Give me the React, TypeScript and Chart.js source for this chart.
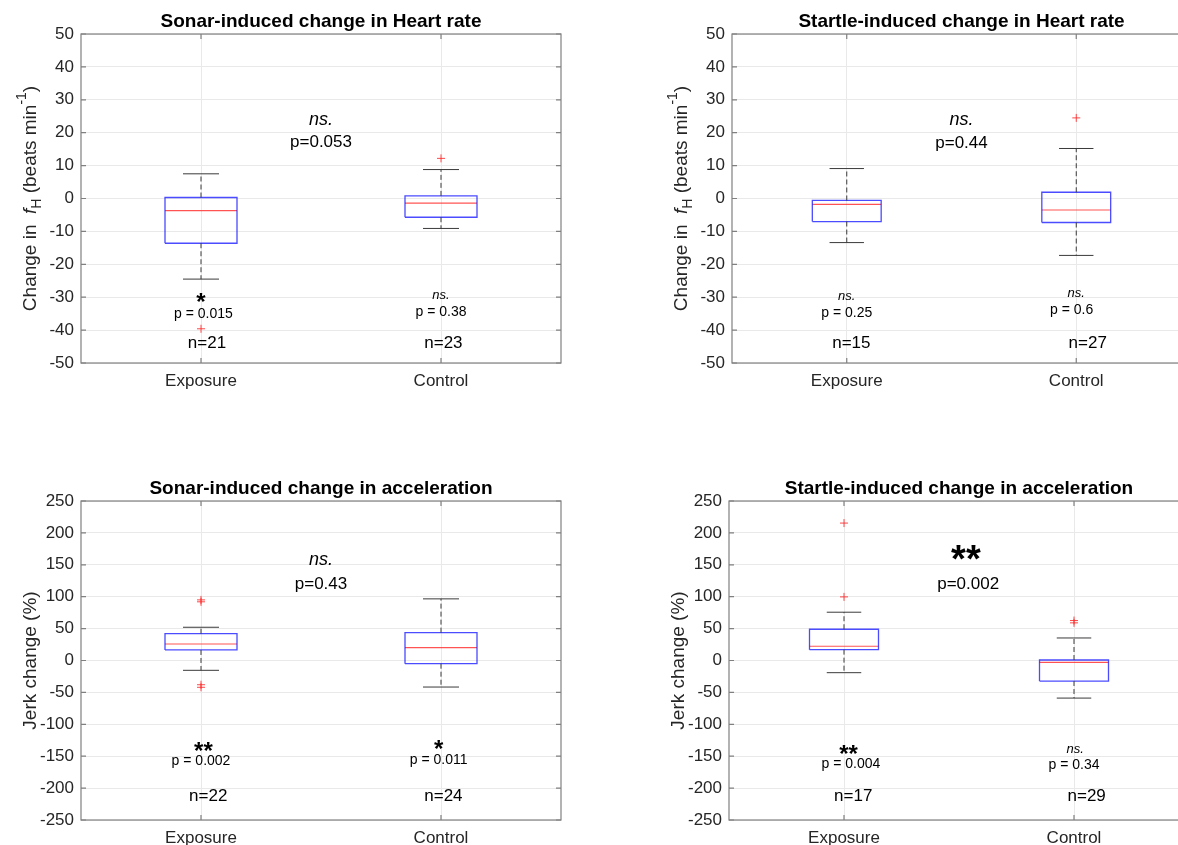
import { useEffect, useRef } from 'react';
import { Chart, registerables } from 'chart.js';

Chart.register(...registerables);

const FONT = '"Liberation Sans", Arial, Helvetica, sans-serif';

const groups = ['Exposure', 'Control'];

// Sonar-induced change in heart rate (beats min^-1)
const sonarHrLow = [-24.5, -9.1];
const sonarHrQ1 = [-13.6, -5.7];
const sonarHrMedian = [-3.7, -1.4];
const sonarHrQ3 = [0.3, 0.8];
const sonarHrHigh = [7.5, 8.8];
const sonarHrOutliers = [[-39.6], [12.2]];
const sonarHrN = ['n=21', 'n=23'];
const sonarHrGroupSig = ['*', 'ns.'];
const sonarHrGroupP = ['p = 0.015', 'p = 0.38'];
const sonarHrTest = ['ns.', 'p=0.053'];

// Startle-induced change in heart rate (beats min^-1)
const startleHrLow = [-13.4, -17.3];
const startleHrQ1 = [-7.0, -7.3];
const startleHrMedian = [-1.8, -3.5];
const startleHrQ3 = [-0.6, 1.9];
const startleHrHigh = [9.1, 15.2];
const startleHrOutliers = [[], [24.5]];
const startleHrN = ['n=15', 'n=27'];
const startleHrGroupSig = ['ns.', 'ns.'];
const startleHrGroupP = ['p = 0.25', 'p = 0.6'];
const startleHrTest = ['ns.', 'p=0.44'];

// Sonar-induced change in jerk (%)
const sonarJerkLow = [-15.4, -41.6];
const sonarJerkQ1 = [16.5, -5.0];
const sonarJerkMedian = [25.9, 20.2];
const sonarJerkQ3 = [42.1, 43.7];
const sonarJerkHigh = [52.1, 96.6];
const sonarJerkOutliers = [[95, 92, -38, -42], []];
const sonarJerkN = ['n=22', 'n=24'];
const sonarJerkGroupSig = ['**', '*'];
const sonarJerkGroupP = ['p = 0.002', 'p = 0.011'];
const sonarJerkTest = ['ns.', 'p=0.43'];

// Startle-induced change in jerk (%)
const startleJerkLow = [-19.1, -58.9];
const startleJerkQ1 = [17.0, -32.2];
const startleJerkMedian = [22.3, -2.9];
const startleJerkQ3 = [49.0, 0.8];
const startleJerkHigh = [75.7, 35.3];
const startleJerkOutliers = [[215.4, 99.7], [62.6, 59.0]];
const startleJerkN = ['n=17', 'n=29'];
const startleJerkGroupSig = ['**', 'ns.'];
const startleJerkGroupP = ['p = 0.004', 'p = 0.34'];
const startleJerkTest = ['**', 'p=0.002'];

// Axis ranges
const hrRange = [-50, 50, 10];
const jerkRange = [-250, 250, 50];

type LabelPart = { text: string; italic?: boolean; shift?: 'sub' | 'sup' };

const hrLabel: LabelPart[] = [
  { text: 'Change in  ' },
  { text: 'f', italic: true },
  { text: 'H', shift: 'sub' },
  { text: ' (beats min' },
  { text: '-1', shift: 'sup' },
  { text: ')' },
];
const jerkLabel: LabelPart[] = [{ text: 'Jerk change (%)' }];

type Stats = {
  low: number[];
  q1: number[];
  median: number[];
  q3: number[];
  high: number[];
  outliers: number[][];
};

type NoteSpots = {
  test: [number, number][];
  sig: [number, number][];
  p: [number, number][];
  n: [number, number][];
  bigTestSig?: boolean;
};

type PanelDef = {
  title: string;
  yLabel: LabelPart[];
  range: number[];
  stats: Stats;
  test: string[];
  sig: string[];
  pText: string[];
  nText: string[];
  spots: NoteSpots;
  box: { left: number; top: number; width: number; height: number };
  area: { left: number; top: number; right: number; bottom: number };
};

const panels: PanelDef[] = [
  {
    title: 'Sonar-induced change in Heart rate',
    yLabel: hrLabel,
    range: hrRange,
    stats: { low: sonarHrLow, q1: sonarHrQ1, median: sonarHrMedian, q3: sonarHrQ3, high: sonarHrHigh, outliers: sonarHrOutliers },
    test: sonarHrTest,
    sig: sonarHrGroupSig,
    pText: sonarHrGroupP,
    nText: sonarHrN,
    spots: {
      test: [[1.5, 24], [1.5, 17]],
      sig: [[1.0, -30], [2.0, -29.5]],
      p: [[1.01, -35.3], [2.0, -34.6]],
      n: [[1.025, -43.9], [2.01, -43.9]],
    },
    box: { left: 0, top: 0, width: 589, height: 430 },
    area: { left: 81, top: 34, right: 561, bottom: 363 },
  },
  {
    title: 'Startle-induced change in Heart rate',
    yLabel: hrLabel,
    range: hrRange,
    stats: { low: startleHrLow, q1: startleHrQ1, median: startleHrMedian, q3: startleHrQ3, high: startleHrHigh, outliers: startleHrOutliers },
    test: startleHrTest,
    sig: startleHrGroupSig,
    pText: startleHrGroupP,
    nText: startleHrN,
    spots: {
      test: [[1.5, 23.8], [1.5, 16.9]],
      sig: [[1.0, -29.7], [2.0, -28.7]],
      p: [[1.0, -34.9], [1.98, -33.9]],
      n: [[1.02, -43.9], [2.05, -43.9]],
    },
    box: { left: 589, top: 0, width: 620, height: 430 },
    area: { left: 143, top: 34, right: 602, bottom: 363 },
  },
  {
    title: 'Sonar-induced change in acceleration',
    yLabel: jerkLabel,
    range: jerkRange,
    stats: { low: sonarJerkLow, q1: sonarJerkQ1, median: sonarJerkMedian, q3: sonarJerkQ3, high: sonarJerkHigh, outliers: sonarJerkOutliers },
    test: sonarJerkTest,
    sig: sonarJerkGroupSig,
    pText: sonarJerkGroupP,
    nText: sonarJerkN,
    spots: {
      test: [[1.5, 158], [1.5, 119.6]],
      sig: [[1.01, -134.8], [1.99, -131.7]],
      p: [[1.0, -157.9], [1.99, -155.8]],
      n: [[1.03, -213.4], [2.01, -213.4]],
    },
    box: { left: 0, top: 440, width: 589, height: 405 },
    area: { left: 81, top: 61, right: 561, bottom: 380 },
  },
  {
    title: 'Startle-induced change in acceleration',
    yLabel: jerkLabel,
    range: jerkRange,
    stats: { low: startleJerkLow, q1: startleJerkQ1, median: startleJerkMedian, q3: startleJerkQ3, high: startleJerkHigh, outliers: startleJerkOutliers },
    test: startleJerkTest,
    sig: startleJerkGroupSig,
    pText: startleJerkGroupP,
    nText: startleJerkN,
    spots: {
      test: [[1.53, 168.8], [1.54, 119.1]],
      sig: [[1.02, -140], [2.005, -139]],
      p: [[1.03, -163.1], [2.0, -164.7]],
      n: [[1.04, -213.4], [2.055, -213.4]],
      bigTestSig: true,
    },
    box: { left: 589, top: 440, width: 620, height: 405 },
    area: { left: 140, top: 61, right: 600, bottom: 380 },
  },
];

const BOX_HALF = 0.15;
const CAP_HALF = 0.075;

type Pt = { x: number; y: number | null };

function boxDatasets(s: Stats) {
  const boxPts: Pt[] = [];
  const medPts: Pt[] = [];
  const whiskPts: Pt[] = [];
  const capPts: Pt[] = [];
  const outPts: Pt[] = [];
  s.q1.forEach((_, i) => {
    const x = i + 1;
    boxPts.push(
      { x: x - BOX_HALF, y: s.q1[i] },
      { x: x + BOX_HALF, y: s.q1[i] },
      { x: x + BOX_HALF, y: s.q3[i] },
      { x: x - BOX_HALF, y: s.q3[i] },
      { x: x - BOX_HALF, y: s.q1[i] },
      { x, y: null }
    );
    medPts.push({ x: x - BOX_HALF, y: s.median[i] }, { x: x + BOX_HALF, y: s.median[i] }, { x, y: null });
    whiskPts.push(
      { x, y: s.q3[i] },
      { x, y: s.high[i] },
      { x, y: null },
      { x, y: s.q1[i] },
      { x, y: s.low[i] },
      { x, y: null }
    );
    capPts.push(
      { x: x - CAP_HALF, y: s.high[i] },
      { x: x + CAP_HALF, y: s.high[i] },
      { x, y: null },
      { x: x - CAP_HALF, y: s.low[i] },
      { x: x + CAP_HALF, y: s.low[i] },
      { x, y: null }
    );
    s.outliers[i].forEach((v) => outPts.push({ x, y: v }));
  });
  const line = (data: Pt[], color: string, width: number, dash: number[] = []) => ({
    type: 'scatter' as const,
    data,
    showLine: true,
    spanGaps: false,
    borderColor: color,
    borderWidth: width,
    borderDash: dash,
    pointRadius: 0,
    pointHoverRadius: 0,
    tension: 0,
  });
  return [
    line(whiskPts, '#3a3a3a', 1, [5, 3]),
    line(capPts, '#3a3a3a', 1),
    line(boxPts, 'rgba(30,30,255,0.8)', 1.3),
    line(medPts, 'rgba(255,40,40,0.8)', 1.2),
    {
      type: 'scatter' as const,
      data: outPts,
      showLine: false,
      pointStyle: 'cross',
      pointRadius: 4,
      borderColor: 'rgba(255,40,40,0.85)',
      backgroundColor: 'rgba(255,40,40,0.85)',
      borderWidth: 1,
    },
  ];
}

type Note = { text: string; x: number; y: number; font: string; star: boolean };

function buildNotes(p: PanelDef): Note[] {
  const notes: Note[] = [];
  const sigFont = (t: string, big: boolean) => {
    if (t === 'ns.') return big ? `italic 18px ${FONT}` : `italic 13px ${FONT}`;
    return big ? `bold 38px ${FONT}` : `bold 24px ${FONT}`;
  };
  const bigSig = p.spots.bigTestSig ? true : p.test[0] === 'ns.';
  notes.push({ text: p.test[0], x: p.spots.test[0][0], y: p.spots.test[0][1], font: sigFont(p.test[0], bigSig), star: p.test[0] !== 'ns.' });
  notes.push({ text: p.test[1], x: p.spots.test[1][0], y: p.spots.test[1][1], font: `17px ${FONT}`, star: false });
  p.sig.forEach((t, i) => {
    notes.push({ text: t, x: p.spots.sig[i][0], y: p.spots.sig[i][1], font: sigFont(t, false), star: t !== 'ns.' });
  });
  p.pText.forEach((t, i) => {
    notes.push({ text: t, x: p.spots.p[i][0], y: p.spots.p[i][1], font: `14px ${FONT}`, star: false });
  });
  p.nText.forEach((t, i) => {
    notes.push({ text: t, x: p.spots.n[i][0], y: p.spots.n[i][1], font: `17px ${FONT}`, star: false });
  });
  return notes;
}

function drawYLabel(ctx: CanvasRenderingContext2D, parts: LabelPart[], baseX: number, midY: number, size: number) {
  const fontFor = (pt: LabelPart) =>
    `${pt.italic ? 'italic ' : ''}${pt.shift ? Math.round(size * 0.72) : size}px ${FONT}`;
  ctx.save();
  ctx.translate(baseX, midY);
  ctx.rotate(-Math.PI / 2);
  let total = 0;
  parts.forEach((pt) => {
    ctx.font = fontFor(pt);
    total += ctx.measureText(pt.text).width;
  });
  let x = -total / 2;
  ctx.textBaseline = 'alphabetic';
  ctx.textAlign = 'left';
  ctx.fillStyle = '#262626';
  parts.forEach((pt) => {
    ctx.font = fontFor(pt);
    const dy = pt.shift === 'sub' ? size * 0.3 : pt.shift === 'sup' ? -size * 0.48 : 0;
    ctx.fillText(pt.text, x, dy);
    x += ctx.measureText(pt.text).width;
  });
  ctx.restore();
}

function makeDecor(p: PanelDef) {
  const notes = buildNotes(p);
  return {
    id: 'decor',
    afterDatasetsDraw(chart: any) {
      const { ctx, chartArea: a, scales } = chart;
      const xs = scales.x;
      const ys = scales.y;
      ctx.save();
      // frame with inward ticks
      ctx.strokeStyle = '#808080';
      ctx.lineWidth = 1.2;
      ctx.strokeRect(a.left, a.top, a.right - a.left, a.bottom - a.top);
      ctx.beginPath();
      const tl = 5;
      ys.ticks.forEach((t: any) => {
        const py = ys.getPixelForValue(t.value);
        ctx.moveTo(a.left, py);
        ctx.lineTo(a.left + tl, py);
        ctx.moveTo(a.right, py);
        ctx.lineTo(a.right - tl, py);
      });
      xs.ticks.forEach((t: any) => {
        const px = xs.getPixelForValue(t.value);
        ctx.moveTo(px, a.bottom);
        ctx.lineTo(px, a.bottom - tl);
        ctx.moveTo(px, a.top);
        ctx.lineTo(px, a.top + tl);
      });
      ctx.stroke();

      // annotations
      ctx.fillStyle = '#000';
      ctx.textAlign = 'center';
      notes.forEach((n) => {
        ctx.font = n.font;
        const px = xs.getPixelForValue(n.x);
        const py = ys.getPixelForValue(n.y);
        if (n.star) {
          ctx.textBaseline = 'alphabetic';
          const m = ctx.measureText(n.text);
          const off = (m.actualBoundingBoxAscent - m.actualBoundingBoxDescent) / 2;
          ctx.fillText(n.text, px, py + off);
        } else {
          ctx.textBaseline = 'middle';
          ctx.fillText(n.text, px, py);
        }
      });

      // title
      ctx.font = `bold 19px ${FONT}`;
      ctx.textBaseline = 'alphabetic';
      ctx.fillStyle = '#000';
      ctx.fillText(p.title, (a.left + a.right) / 2, a.top - 7);

      // y-axis label
      drawYLabel(ctx, p.yLabel, a.left - 45.5, (a.top + a.bottom) / 2, 19);
      ctx.restore();
    },
  };
}

function Panel({ def }: { def: PanelDef }) {
  const ref = useRef<HTMLCanvasElement>(null);
  useEffect(() => {
    if (!ref.current) return;
    const { box, area, range } = def;
    const chart = new Chart(ref.current, {
      type: 'scatter',
      data: { datasets: boxDatasets(def.stats) as any },
      options: {
        animation: false,
        responsive: false,
        devicePixelRatio: 1,
        events: [],
        layout: { padding: { left: 0, top: area.top, right: box.width - area.right, bottom: 0 } },
        plugins: { legend: { display: false }, tooltip: { enabled: false }, title: { display: false } },
        scales: {
          x: {
            type: 'linear',
            min: 0.5,
            max: 2.5,
            afterBuildTicks: (s: any) => {
              s.ticks = groups.map((_, i) => ({ value: i + 1 }));
            },
            afterFit: (s: any) => {
              s.height = box.height - area.bottom;
            },
            ticks: {
              autoSkip: false,
              maxRotation: 0,
              padding: 8,
              color: '#262626',
              font: { family: FONT, size: 17 },
              callback: (v: any) => groups[Math.round(Number(v)) - 1] ?? '',
            },
            grid: { color: '#e9e9e9', lineWidth: 1, drawTicks: false },
            border: { display: false },
          },
          y: {
            type: 'linear',
            min: range[0],
            max: range[1],
            afterFit: (s: any) => {
              s.width = area.left;
            },
            ticks: {
              stepSize: range[2],
              padding: 7,
              color: '#262626',
              font: { family: FONT, size: 17 },
            },
            grid: { color: '#e9e9e9', lineWidth: 1, drawTicks: false },
            border: { display: false },
          },
        },
      },
      plugins: [makeDecor(def)],
    });
    return () => chart.destroy();
  }, [def]);
  const { box } = def;
  return (
    <canvas
      ref={ref}
      width={box.width}
      height={box.height}
      style={{ position: 'absolute', left: box.left, top: box.top, width: box.width, height: box.height }}
    />
  );
}

export default function App() {
  return (
    <div
      style={{
        position: 'absolute',
        left: 0,
        top: 0,
        width: 1178,
        height: 845,
        overflow: 'hidden',
        background: '#ffffff',
      }}
    >
      {panels.map((p) => (
        <Panel key={p.title} def={p} />
      ))}
    </div>
  );
}
